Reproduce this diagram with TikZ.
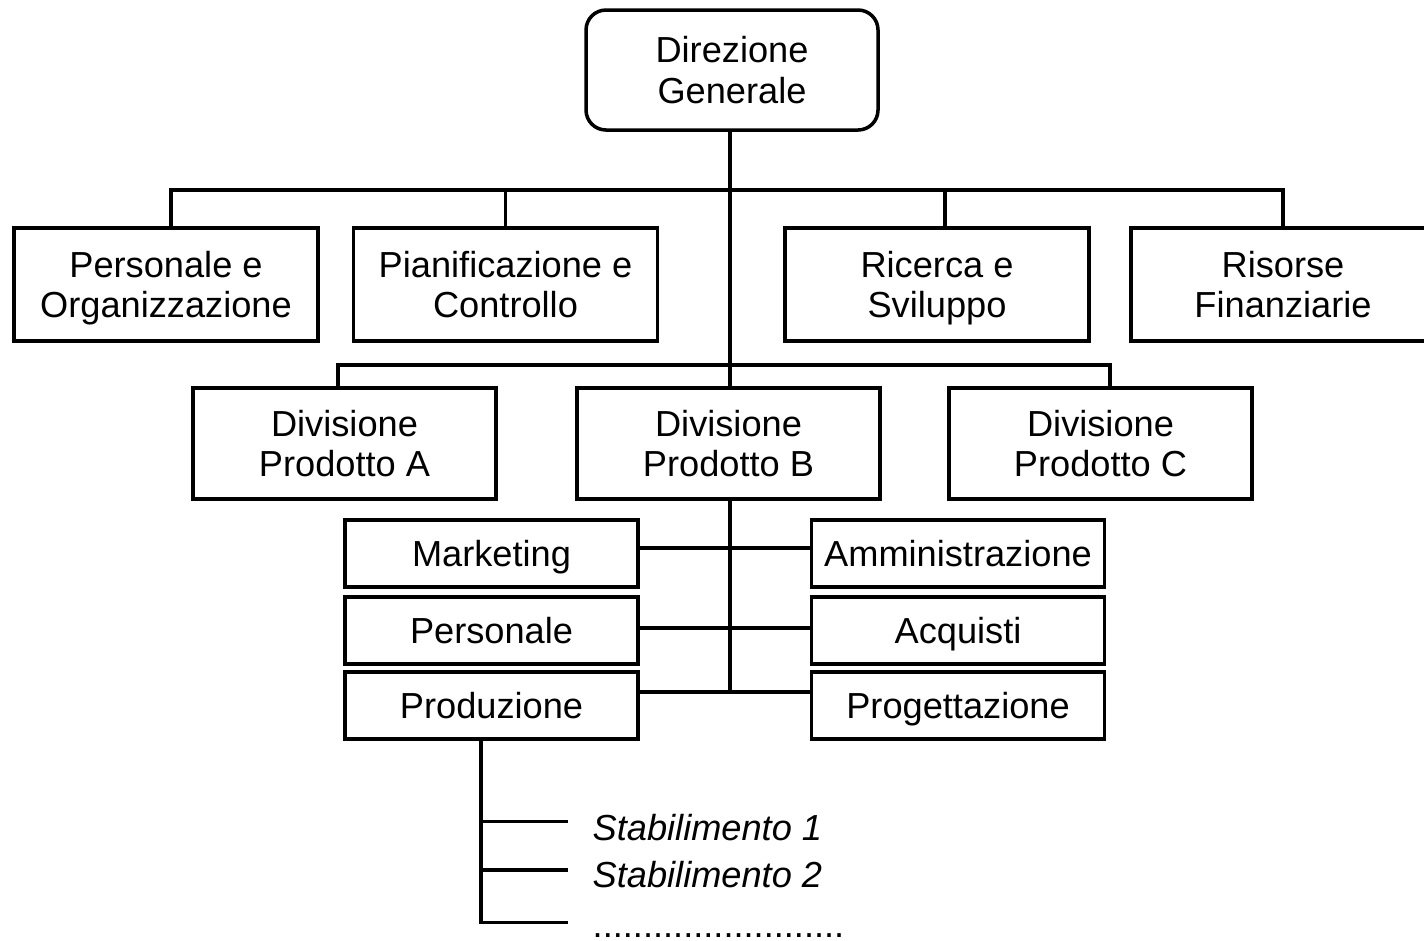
\documentclass[tikz,border=0pt]{standalone}
\usepackage{fontspec}
\setmainfont{Liberation Sans}

\begin{document}
\begin{tikzpicture}[
  unit/.style={draw, line width=1pt, align=center, inner sep=0pt, font=\fontsize{10.3}{11.6}\selectfont},
  twoline/.style={unit, text height=19pt, text depth=0pt},
  head/.style={twoline, rounded corners=0.2cm, minimum width=2.92cm, minimum height=1.20cm},
  staff/.style={twoline, minimum width=3.04cm, minimum height=1.13cm},
  division/.style={twoline, minimum width=3.03cm, minimum height=1.11cm},
  function/.style={unit, text height=7.4pt, text depth=0pt, minimum width=2.93cm, minimum height=0.67cm},
  plant/.style={inner xsep=0.24cm, inner ysep=0pt, font=\fontsize{10.3}{11.6}\selectfont\itshape},
  link/.style={line width=1pt},
]
\useasboundingbox (0,0) rectangle (14.24,-9.40);
% Vertice
\node[head] (dg) at (7.32,-0.70) {Direzione\\Generale};
% Funzioni di staff
\node[staff] (po) at (1.66,-2.845)  {Personale e\\Organizzazione};
\node[staff] (pc) at (5.055,-2.845) {Pianificazione e\\Controllo};
\node[staff] (rs) at (9.37,-2.845)  {Ricerca e\\Sviluppo};
\node[staff] (rf) at (12.83,-2.845) {Risorse\\Finanziarie};
% Divisioni
\node[division] (da) at (3.445,-4.435) {Divisione\\Prodotto A};
\node[division] (db) at (7.285,-4.435) {Divisione\\Prodotto B};
\node[division] (dc) at (11.005,-4.435) {Divisione\\Prodotto C};
% Funzioni della divisione B
\node[function] (mk) at (4.915,-5.535) {Marketing};
\node[function] (pe) at (4.915,-6.305) {Personale};
\node[function] (pr) at (4.915,-7.055) {Produzione};
\node[function] (am) at (9.58,-5.535)  {Amministrazione};
\node[function] (ac) at (9.58,-6.305)  {Acquisti};
\node[function] (pg) at (9.58,-7.055)  {Progettazione};
% Stabilimenti
\node[plant, anchor=base west] (st1) at (5.68,-8.40) {Stabilimento 1};
\node[plant, anchor=base west] (st2) at (5.68,-8.87) {Stabilimento 2};
\node[plant, anchor=base west, font=\fontsize{10.3}{11.6}\selectfont] (st3) at (5.68,-9.37) {.........................};
\coordinate (stem) at (7.30,-1.30);
\coordinate (bus) at (7.30,-1.90);
\coordinate (divbus) at (7.30,-3.65);
\coordinate (fbot) at (7.30,-6.92);
\coordinate (trunk) at ([xshift=-0.105cm]pr.south);
\coordinate (b1) at (5.68,-8.215);
\coordinate (b2) at (5.68,-8.70);
\coordinate (b3) at (5.68,-9.225);
% Connessioni
\draw[link] (stem) -- (stem |- db.north);
\draw[link] ([xshift=0.05cm]po.north) |- (rf.north |- bus) -- (rf.north);
\draw[link] (pc.north) -- (pc.north |- bus);
\draw[link] ([xshift=0.08cm]rs.north) -- ([xshift=0.08cm]rs.north |- bus);
\draw[link] ([xshift=-0.065cm]da.north) |- ([xshift=0.095cm]dc.north |- divbus) -- ([xshift=0.095cm]dc.north);
\draw[link] (stem |- db.south) -- (fbot);
\draw[link] ([yshift=0.055cm]mk.east) -- ([yshift=0.055cm]am.west);
\draw[link] ([yshift=0.025cm]pe.east) -- ([yshift=0.025cm]ac.west);
\draw[link] (pr.east |- fbot) -- (pg.west |- fbot);
\draw[link] (trunk) |- (b3);
\draw[link] (trunk |- b1) -- (b1);
\draw[link] (trunk |- b2) -- (b2);
\end{tikzpicture}
\end{document}
